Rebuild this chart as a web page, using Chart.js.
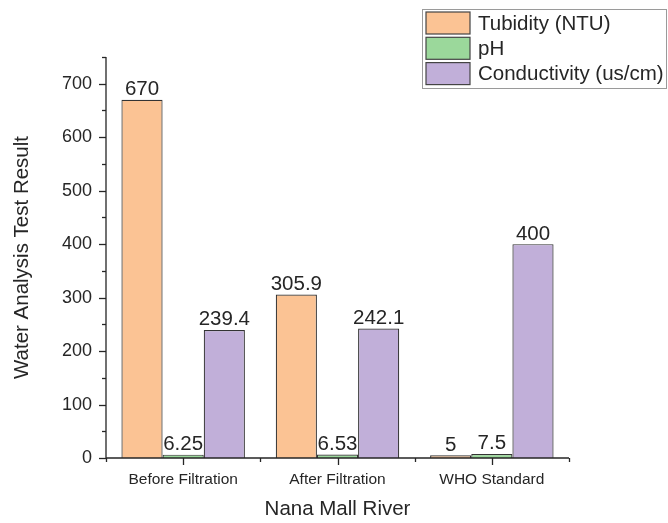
<!DOCTYPE html>
<html><head><meta charset="utf-8">
<script src="https://cdn.jsdelivr.net/npm/chart.js@4"></script>
<style>html,body{margin:0;padding:0;background:#fff}#wrap{width:668px;height:523px}</style>
</head><body><div id="wrap"><canvas id="c" width="668" height="523"></canvas></div>
<script>
const categories = ['Before Filtration', 'After Filtration', 'WHO Standard'];
const turbidity = [670, 305.9, 5];
const ph = [6.25, 6.53, 7.5];
const conductivity = [239.4, 242.1, 400];
const seriesNames = ['Tubidity (NTU)', 'pH', 'Conductivity (us/cm)'];
const valueLabels = [['670', '305.9', '5'], ['6.25', '6.53', '7.5'], ['239.4', '242.1', '400']];
const yTicks = [0, 100, 200, 300, 400, 500, 600, 700];
const colors = ['#FBC394', '#9BD89B', '#C1AFD9'];
const FONT = "'Liberation Sans', Arial, sans-serif";
const INK = '#262626';

const axisPlugin = {
  id: 'axisPlugin',
  afterDraw(chart) {
    const ctx = chart.ctx, x = chart.scales.x, y = chart.scales.y, a = chart.chartArea;
    ctx.save();
    ctx.strokeStyle = INK; ctx.lineWidth = 1.3;
    ctx.beginPath();
    ctx.moveTo(a.left, a.top); ctx.lineTo(a.left, a.bottom); ctx.lineTo(a.right, a.bottom);
    ctx.stroke();
    for (let v = 0; v <= 750; v += 50) {
      const py = Math.round(y.getPixelForValue(v)) + 0.5;
      const len = (v % 100 === 0) ? 7 : 4;
      ctx.beginPath(); ctx.moveTo(a.left - len, py); ctx.lineTo(a.left, py); ctx.stroke();
    }
    for (let i = 0; i < categories.length; i++) {
      const px = Math.round(x.getPixelForValue(i)) + 0.5;
      ctx.beginPath(); ctx.moveTo(px, a.bottom); ctx.lineTo(px, a.bottom + 7); ctx.stroke();
    }
    for (let i = 0; i <= categories.length; i++) {
      const px = Math.round(x.getPixelForValue(i - 0.5)) + 0.5;
      ctx.beginPath(); ctx.moveTo(px, a.bottom); ctx.lineTo(px, a.bottom + 4); ctx.stroke();
    }
    ctx.fillStyle = INK; ctx.font = '20.5px ' + FONT; ctx.textAlign = 'center'; ctx.textBaseline = 'bottom';
    chart.data.datasets.forEach((ds, di) => {
      chart.getDatasetMeta(di).data.forEach((bar, i) => {
        ctx.fillText(valueLabels[di][i], bar.x, bar.y);
      });
    });
    const lx = 422, ly = 9, lw = 244, lh = 79;
    ctx.fillStyle = '#fff'; ctx.fillRect(lx, ly, lw, lh);
    ctx.strokeStyle = '#9a9a9a'; ctx.lineWidth = 1;
    ctx.strokeRect(lx + 0.5, ly + 0.5, lw, lh);
    ctx.textAlign = 'left'; ctx.textBaseline = 'middle'; ctx.font = '20.5px ' + FONT;
    for (let i = 0; i < 3; i++) {
      const ry = ly + 3 + i * 25.3;
      ctx.fillStyle = colors[i]; ctx.fillRect(lx + 4, ry, 44, 22);
      ctx.strokeStyle = '#444'; ctx.lineWidth = 1.2; ctx.strokeRect(lx + 4, ry, 44, 22);
      ctx.fillStyle = INK; ctx.fillText(seriesNames[i], lx + 56, ry + 12);
    }
    ctx.restore();
  }
};

new Chart(document.getElementById('c'), {
  type: 'bar',
  data: {
    labels: categories,
    datasets: [turbidity, ph, conductivity].map((d, i) => ({
      label: seriesNames[i], data: d, backgroundColor: colors[i],
      borderColor: '#333', borderWidth: 1.2,
      barPercentage: 1.0, categoryPercentage: 0.8
    }))
  },
  options: {
    responsive: false, animation: false,
    layout: { padding: { top: 57, right: 99, left: 6, bottom: 0 } },
    plugins: { legend: { display: false }, tooltip: { enabled: false } },
    scales: {
      x: {
        afterFit(s) { s.height = 65; },
        grid: { display: false, drawTicks: false },
        border: { display: false },
        ticks: { color: INK, font: { family: FONT, size: 15.5 }, padding: 12 },
        title: { display: true, text: 'Nana Mall River', color: INK, font: { family: FONT, size: 20.5 }, padding: { top: 9, bottom: 1 } }
      },
      y: {
        min: 0, max: 750,
        afterFit(s) { s.width = 100; },
        afterBuildTicks(s) { s.ticks = yTicks.map(v => ({ value: v })); },
        grid: { display: false, drawTicks: false },
        border: { display: false },
        ticks: { color: INK, font: { family: FONT, size: 18 }, padding: 14 },
        title: { display: true, text: 'Water Analysis Test Result', color: INK, font: { family: FONT, size: 20.5 }, padding: { top: 4, bottom: 29 } }
      }
    }
  },
  plugins: [axisPlugin]
});
</script></body></html>
